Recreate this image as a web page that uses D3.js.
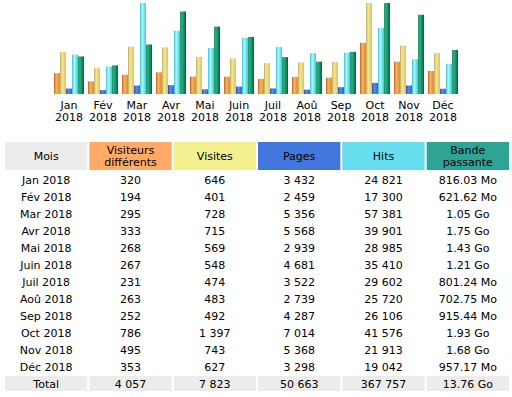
<!DOCTYPE html>
<html>
<head>
<meta charset="utf-8">
<script src="https://cdn.jsdelivr.net/npm/d3@7"></script>
<style>
  body { margin: 0; background: #fff; }
  svg { display: block; font-family: "DejaVu Sans", Verdana, sans-serif; }
</style>
</head>
<body>
<svg id="chart" width="512" height="397"></svg>
<script>
const months = ["Jan", "Fév", "Mar", "Avr", "Mai", "Juin", "Juil", "Aoû", "Sep", "Oct", "Nov", "Déc"];
const year = "2018";
const visitors = [320, 194, 295, 333, 268, 267, 231, 263, 252, 786, 495, 353];
const visits = [646, 401, 728, 715, 569, 548, 474, 483, 492, 1397, 743, 627];
const pages = [3432, 2459, 5356, 5568, 2939, 4681, 3522, 2739, 4287, 7014, 5368, 3298];
const hits = [24821, 17300, 57381, 39901, 28985, 35410, 29602, 25720, 26106, 41576, 21913, 19042];
const bandwidthMo = [816.03, 621.62, 1075.2, 1792, 1464.32, 1239.04, 801.24, 702.75, 915.44, 1976.32, 1720.32, 957.17];
const bandwidthLabels = ["816.03 Mo", "621.62 Mo", "1.05 Go", "1.75 Go", "1.43 Go", "1.21 Go", "801.24 Mo", "702.75 Mo", "915.44 Mo", "1.93 Go", "1.68 Go", "957.17 Mo"];
const bandwidthTotal = "13.76 Go";

const fmt = d3.formatLocale({decimal: ".", thousands: " ", grouping: [3], currency: ["", ""]}).format(",d");

const svg = d3.select("#chart");
const defs = svg.append("defs");

// series: key, values, scale group, gradient stops
const series = [
  {key: "vu", values: visitors, group: "v", stops: ["#c0620c", "#f6b468", "#e08a34"]},
  {key: "vv", values: visits, group: "v", stops: ["#c4ac4c", "#f4e89a", "#d8c46a"]},
  {key: "vp", values: pages, group: "h", stops: ["#2448b4", "#5c8cf0", "#3462d2"]},
  {key: "vh", values: hits, group: "h", stops: ["#28c4d4", "#b4f8ff", "#3ccede"]},
  {key: "vk", values: bandwidthMo, group: "k", stops: ["#1a9a6a", "#2cae7e", "#06603e"]}
];

series.forEach(s => {
  const g = defs.append("linearGradient").attr("id", "g-" + s.key)
    .attr("x1", 0).attr("x2", 1).attr("y1", 0).attr("y2", 0);
  g.append("stop").attr("offset", 0).attr("stop-color", s.stops[0]);
  g.append("stop").attr("offset", 0.35).attr("stop-color", s.stops[1]);
  g.append("stop").attr("offset", 1).attr("stop-color", s.stops[2]);
});

const baseY = 94, topY = 3;
const yScales = {
  v: d3.scaleLinear().domain([0, d3.max(visits)]).range([baseY, topY]),
  h: d3.scaleLinear().domain([0, d3.max(hits)]).range([baseY, topY]),
  k: d3.scaleLinear().domain([0, d3.max(bandwidthMo)]).range([baseY, topY])
};

const x0 = d3.scaleBand().domain(months).range([54, 458]).paddingInner(4 / 34).paddingOuter(0);
const x1 = d3.scaleBand().domain(series.map(s => s.key)).range([0, x0.bandwidth()]);

const groups = svg.append("g").selectAll("g")
  .data(months).join("g")
  .attr("transform", d => `translate(${x0(d)},0)`);

groups.selectAll("rect")
  .data((m, i) => series.map(s => ({s, v: s.values[i]})))
  .join("rect")
  .attr("x", d => x1(d.s.key))
  .attr("width", x1.bandwidth())
  .attr("y", d => yScales[d.s.group](d.v))
  .attr("height", d => baseY - yScales[d.s.group](d.v))
  .attr("fill", d => `url(#g-${d.s.key})`);

const labels = svg.append("g").attr("font-size", 11).attr("fill", "#000").attr("text-anchor", "middle");
months.forEach(m => {
  const cx = x0(m) + x0.bandwidth() / 2;
  labels.append("text").attr("x", cx).attr("y", 109).text(m);
  labels.append("text").attr("x", cx).attr("y", 121).text(year);
});

// table
const cols = [
  {head: ["Mois"], bg: "#ececec"},
  {head: ["Visiteurs", "différents"], bg: "#ffaa66"},
  {head: ["Visites"], bg: "#f4f090"},
  {head: ["Pages"], bg: "#4477dd"},
  {head: ["Hits"], bg: "#66dded"},
  {head: ["Bande", "passante"], bg: "#2ea495"}
];
const colX = d3.scaleBand().domain(d3.range(cols.length)).range([5, 509]).paddingInner(2 / 84).paddingOuter(0);

const table = svg.append("g").attr("font-size", 11).attr("text-anchor", "middle");
const headTop = 142, headH = 28;
cols.forEach((c, i) => {
  table.append("rect").attr("x", colX(i)).attr("y", headTop)
    .attr("width", colX.bandwidth()).attr("height", headH).attr("fill", c.bg);
  const cx = colX(i) + colX.bandwidth() / 2;
  const n = c.head.length;
  c.head.forEach((t, j) => {
    table.append("text").attr("x", cx)
      .attr("y", headTop + headH / 2 + (j - (n - 1) / 2) * 12 + 4)
      .attr("fill", "#000").text(t);
  });
});

const rowY = d3.scaleLinear().domain([0, 1]).range([180, 197]);
const rows = months.map((m, i) => [
  m + " " + year, fmt(visitors[i]), fmt(visits[i]), fmt(pages[i]), fmt(hits[i]), bandwidthLabels[i]
]);
rows.forEach((r, i) => {
  r.forEach((t, j) => {
    table.append("text").attr("x", colX(j) + colX.bandwidth() / 2).attr("y", rowY(i) + 4)
      .attr("fill", "#000").text(t);
  });
});

const totals = ["Total", fmt(d3.sum(visitors)), fmt(d3.sum(visits)), fmt(d3.sum(pages)), fmt(d3.sum(hits)), bandwidthTotal];
const ty = rowY(rows.length);
totals.forEach((t, j) => {
  table.append("rect").attr("x", colX(j)).attr("y", ty - 8)
    .attr("width", colX.bandwidth()).attr("height", 15).attr("fill", "#ececec");
  table.append("text").attr("x", colX(j) + colX.bandwidth() / 2).attr("y", ty + 4)
    .attr("fill", "#000").text(t);
});
</script>
</body>
</html>
